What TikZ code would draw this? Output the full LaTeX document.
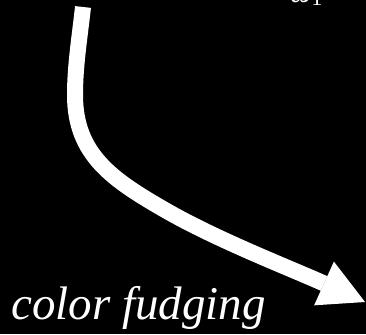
\documentclass[tikz,border=0pt]{standalone}
\usepackage{fontspec}
\setmainfont{Liberation Serif}
\usepackage{tikz}
\usetikzlibrary{arrows.meta}
\definecolor{fudgebg}{HTML}{000000}
\definecolor{fudgefg}{HTML}{FFFFFF}
\tikzstyle{fudgearrow} = [-{Triangle[length=45pt,width=48pt,line width=0pt]}, line width=16pt, fudgefg]
\tikzstyle{caption} = [text=fudgefg, font=\fontsize{47}{50}\selectfont\itshape, inner sep=0pt, anchor=base west]
\tikzstyle{symlabel} = [text=fudgefg, font=\fontsize{30}{34}\selectfont\itshape, inner sep=0pt, anchor=base west]

\begin{document}
\begin{tikzpicture}[x=1pt,y=1pt]

\useasboundingbox (0,0) rectangle (366,334);
\clip (0,0) rectangle (366,334);
\fill[fudgebg] (0,0) rectangle (366,334);

\coordinate (start) at (83,327);
\coordinate (bendA) at (75,239);
\coordinate (bendB) at (165,124);
\coordinate (tip) at (365,32);

\node[symlabel] (omega) at (290,331) {ω\raisebox{-3pt}{\fontsize{22}{24}\selectfont\upshape 1}};
\node[caption] (fudge) at (11,15) {color fudging};

% the fudge arrow
\draw[fudgearrow] (start) .. controls (80,299) and (75,269) .. (bendA)
    .. controls (75,179) and (113,154) .. (bendB)
    .. controls (217,94) and (292,65) .. (tip);

\end{tikzpicture}
\end{document}
